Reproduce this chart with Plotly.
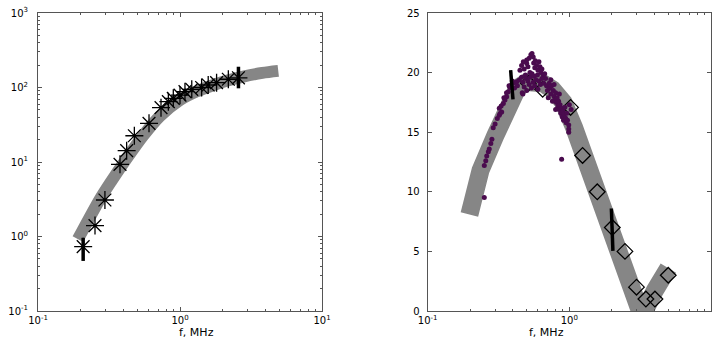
import plotly.graph_objects as go

# ---------------- Left panel data ----------------
band1_f = [0.191, 0.273, 0.33, 0.422, 0.55, 0.72, 1.0, 1.3, 1.63, 2.1, 2.79, 3.8, 4.92]
band1_v = [0.92, 3.18, 5.6, 11.2, 22.5, 41.0, 68.0, 88.0, 104.0, 122.0, 140.0, 157.0, 167.0]

star_f = [0.208, 0.252, 0.296, 0.378, 0.421, 0.477, 0.605, 0.735, 0.828, 0.897, 1.0,
          1.084, 1.21, 1.42, 1.58, 1.81, 2.19, 2.58]
star_v = [0.73, 1.40, 3.09, 9.3, 14.2, 22.5, 33.0, 53.6, 64.6, 71.6, 79.0,
          88.0, 94.6, 100.0, 108.0, 116.0, 129.0, 135.0]

err1a_f = [0.208, 0.208]
err1a_v = [0.47, 0.96]
err1b_f = [2.58, 2.58]
err1b_v = [97.5, 190.0]

# ---------------- Right panel data ----------------
band2_f = [0.197, 0.236, 0.30, 0.363, 0.43, 0.50, 0.57, 0.65, 0.76, 0.91, 1.08, 1.27,
           1.56, 1.90, 2.30, 2.70, 3.25, 4.02, 4.42, 5.0]
band2_v = [8.1, 11.8, 14.7, 17.3, 18.7, 19.2, 19.3, 19.1, 18.6, 17.5, 15.4, 13.1,
           10.0, 7.5, 5.1, 2.58, -0.45, 1.74, 2.58, 3.6]

diam_f = [0.513, 0.648, 1.02, 1.24, 1.574, 2.01, 2.47, 2.98, 3.47, 4.02, 4.99]
diam_v = [19.1, 18.6, 17.08, 13.05, 10.0, 7.0, 5.0, 2.0, 1.0, 1.0, 3.0]

dots_f = [0.251, 0.251, 0.257, 0.261, 0.268, 0.272, 0.279, 0.284,
          0.290, 0.299, 0.31, 0.32, 0.324, 0.333, 0.32,
          0.342, 0.351, 0.361, 0.37, 0.381, 0.39, 0.407, 0.425, 0.443,
          0.33, 0.345, 0.36, 0.375, 0.395, 0.41, 0.43,
          0.448, 0.46, 0.473, 0.48, 0.49, 0.50, 0.50, 0.51, 0.52, 0.527, 0.535, 0.545,
          0.556, 0.56, 0.57, 0.575, 0.588, 0.60, 0.61, 0.62, 0.63, 0.64, 0.654, 0.67, 0.68,
          0.46, 0.47, 0.48, 0.495, 0.51, 0.52, 0.53, 0.545, 0.555, 0.565, 0.58, 0.595,
          0.61, 0.625, 0.64, 0.66,
          0.465, 0.50, 0.54, 0.57, 0.60, 0.47,
          0.69, 0.70, 0.72, 0.73, 0.74, 0.75, 0.77, 0.78, 0.79, 0.80, 0.81, 0.82, 0.83,
          0.84, 0.85, 0.86, 0.87, 0.88, 0.89, 0.90, 0.91, 0.92, 0.93, 0.94, 0.95, 0.96,
          0.97, 0.99, 0.99, 0.99, 0.882,
          0.76, 0.71, 0.80, 0.85, 0.74, 0.78, 1.0, 1.03]
dots_v = [9.52, 12.2, 12.6, 13.0, 13.35, 13.6, 14.05, 14.4,
          15.37, 15.68, 16.15, 16.43, 16.57, 16.7, 17.0,
          17.4, 17.7, 17.97, 18.4, 18.76, 18.95, 19.15, 19.23, 19.37,
          17.2, 17.9, 18.3, 18.9, 19.3, 18.7, 18.9,
          20.2, 20.6, 20.9, 20.3, 19.8, 20.77, 21.05, 20.5, 21.2, 20.0, 21.5, 21.6,
          21.3, 20.8, 20.4, 21.0, 20.6, 20.2, 20.9, 20.5, 20.0, 20.3, 19.8, 19.9, 19.5,
          19.6, 19.2, 18.8, 19.5, 19.3, 19.0, 19.6, 19.9, 19.2, 19.7, 19.4, 19.8,
          19.3, 19.0, 19.5, 19.1,
          18.3, 18.5, 18.7, 18.9, 18.6, 18.2,
          18.9, 18.5, 19.1, 18.7, 18.2, 18.9, 18.5, 18.0, 17.7, 18.3, 17.5, 17.9, 17.2,
          17.6, 16.9, 17.3, 16.6, 17.0, 16.3, 16.8, 16.0, 16.5, 17.1, 16.2, 15.8, 16.6,
          16.0, 15.6, 15.26, 15.0, 12.74,
          17.6, 17.9, 16.9, 18.2, 19.4, 19.0, 17.3, 16.9]

err2a_f = [0.385, 0.40]
err2a_v = [20.2, 17.75]
err2b_f = [1.98, 2.03]
err2b_v = [8.6, 5.04]

# tick labels
log_tickvals_x = [0.1, 1, 10]
log_ticktext_x = ["10<sup>-1</sup>", "10<sup>0</sup>", "10<sup>1</sup>"]
log_tickvals_y = [0.1, 1, 10, 100, 1000]
log_ticktext_y = ["10<sup>-1</sup>", "10<sup>0</sup>", "10<sup>1</sup>", "10<sup>2</sup>", "10<sup>3</sup>"]
lin_tickvals_y = [0, 5, 10, 15, 20, 25]

BAND = "#868686"
DOT = "#4a0b4e"
FONT = "DejaVu Sans"

fig = go.Figure()

# left panel
fig.add_trace(go.Scatter(x=band1_f, y=band1_v, mode="lines",
                         line=dict(color=BAND, width=12, shape="spline", smoothing=0.8),
                         xaxis="x", yaxis="y"))
fig.add_trace(go.Scatter(x=star_f, y=star_v, mode="markers",
                         marker=dict(symbol="asterisk-open", size=15, color="black",
                                     line=dict(color="black", width=1.3)),
                         xaxis="x", yaxis="y"))
for ef, ev in [(err1a_f, err1a_v), (err1b_f, err1b_v)]:
    fig.add_trace(go.Scatter(x=ef, y=ev, mode="lines", line=dict(color="black", width=3.5),
                             xaxis="x", yaxis="y"))

# right panel
fig.add_trace(go.Scatter(x=band2_f, y=band2_v, mode="lines",
                         line=dict(color=BAND, width=18), xaxis="x2", yaxis="y2"))
fig.add_trace(go.Scatter(x=diam_f, y=diam_v, mode="markers",
                         marker=dict(symbol="diamond-open", size=12, color="black",
                                     line=dict(color="black", width=1.3)),
                         xaxis="x2", yaxis="y2"))
fig.add_trace(go.Scatter(x=dots_f, y=dots_v, mode="markers",
                         marker=dict(size=5, color=DOT), xaxis="x2", yaxis="y2"))
for ef, ev in [(err2a_f, err2a_v), (err2b_f, err2b_v)]:
    fig.add_trace(go.Scatter(x=ef, y=ev, mode="lines", line=dict(color="black", width=3.5),
                             xaxis="x2", yaxis="y2"))

W, H = 717, 340
minor_log = [m * 10 ** e for e in range(-1, 3) for m in range(2, 10)]
minor_x = [m * 10 ** e for e in range(-1, 1) for m in range(2, 10)]

axis_common = dict(showline=True, linecolor="#555", linewidth=1, mirror="ticks",
                   ticks="inside", ticklen=4, tickcolor="#555", showgrid=False,
                   zeroline=False, automargin=False,
                   tickfont=dict(family=FONT, size=10, color="black"))

log_x = dict(type="log", range=[-1, 1], tickmode="array", tickvals=log_tickvals_x,
             ticktext=log_ticktext_x,
             minor=dict(tickvals=minor_x, ticks="inside", ticklen=2, tickcolor="#555"),
             **axis_common)

fig.update_layout(
    template="none",
    width=W, height=H,
    margin=dict(l=0, r=0, t=13, b=29, autoexpand=False),
    paper_bgcolor="white", plot_bgcolor="white",
    font=dict(family=FONT, size=10, color="black"),
    showlegend=False,
    xaxis=dict(domain=[38 / W, 322 / W], anchor="y", **log_x),
    yaxis=dict(type="log", range=[-1, 3], tickmode="array", tickvals=log_tickvals_y,
               ticktext=log_ticktext_y, anchor="x", ticklabelstandoff=7,
               minor=dict(tickvals=minor_log, ticks="inside", ticklen=2, tickcolor="#555"),
               **axis_common),
    xaxis2=dict(domain=[427.7 / W, 711 / W], anchor="y2", **log_x),
    yaxis2=dict(range=[0, 25], tickmode="array", tickvals=lin_tickvals_y, anchor="x2",
                ticklabelstandoff=5, **axis_common),
    annotations=[
        dict(text="f, MHz", x=177 / W, y=-0.072, xref="paper", yref="paper",
             showarrow=False, yanchor="middle", font=dict(family=FONT, size=11, color="black")),
        dict(text="f, MHz", x=566 / W, y=-0.072, xref="paper", yref="paper",
             showarrow=False, yanchor="middle", font=dict(family=FONT, size=11, color="black")),
    ],
)

fig.write_html("out.html", config={"displayModeBar": False},
               post_script="document.body.style.margin='0';document.body.style.overflow='hidden';")
